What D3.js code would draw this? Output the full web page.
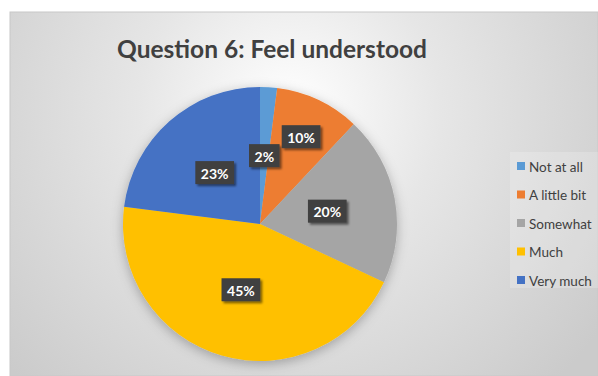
<!DOCTYPE html>
<html>
<head>
<meta charset="utf-8">
<script src="https://cdn.jsdelivr.net/npm/d3@7"></script>
<style>
  html, body { margin: 0; padding: 0; background: #fff; }
  svg { display: block; }
</style>
</head>
<body>
<script>
// Survey responses for question 6
const categories = ["Not at all", "A little bit", "Somewhat", "Much", "Very much"];
const percents = [2, 10, 20, 45, 23];
const sliceColors = ["#5B9BD5", "#ED7D31", "#A5A5A5", "#FFC000", "#4472C4"];
const chartTitle = "Question 6: Feel understood";

const W = 598, H = 376;
const font = "Lato, 'Open Sans', sans-serif";

const svg = d3.select("body").append("svg")
  .attr("width", W).attr("height", H);

const defs = svg.append("defs");

// chart area background: soft radial gradient
const bg = defs.append("radialGradient")
  .attr("id", "bg").attr("gradientUnits", "userSpaceOnUse")
  .attr("cx", 290).attr("cy", 110).attr("r", 380);
bg.append("stop").attr("offset", "0%").attr("stop-color", "#ffffff");
bg.append("stop").attr("offset", "40%").attr("stop-color", "#e6e6e6");
bg.append("stop").attr("offset", "100%").attr("stop-color", "#cbcbcb");

const pieShadow = defs.append("filter").attr("id", "pieShadow")
  .attr("x", "-20%").attr("y", "-20%").attr("width", "140%").attr("height", "140%");
pieShadow.append("feDropShadow").attr("dx", 0).attr("dy", 3)
  .attr("stdDeviation", 6).attr("flood-color", "#000").attr("flood-opacity", 0.28);

const boxShadow = defs.append("filter").attr("id", "boxShadow")
  .attr("x", "-30%").attr("y", "-30%").attr("width", "170%").attr("height", "170%");
boxShadow.append("feDropShadow").attr("dx", 2).attr("dy", 2)
  .attr("stdDeviation", 1.2).attr("flood-color", "#000").attr("flood-opacity", 0.5);

svg.append("rect")
  .attr("x", 10).attr("y", 12).attr("width", W - 10).attr("height", H - 12)
  .attr("fill", "url(#bg)")
  .attr("stroke", "#c8c8c8").attr("stroke-width", 1);

// title
svg.append("text")
  .attr("x", 272).attr("y", 58)
  .attr("text-anchor", "middle")
  .attr("font-family", font).attr("font-weight", "bold")
  .attr("font-size", 24.5).attr("fill", "#404040")
  .text(chartTitle);

// pie
const cx = 260, cy = 224, radius = 137;
const data = categories.map((c, i) => ({ cat: c, value: percents[i], color: sliceColors[i] }));
const pie = d3.pie().sort(null).value(d => d.value);
const arcs = pie(data);
const arc = d3.arc().innerRadius(0).outerRadius(radius);

const g = svg.append("g").attr("transform", `translate(${cx},${cy})`);
g.append("g").attr("filter", "url(#pieShadow)")
  .selectAll("path").data(arcs).join("path")
  .attr("d", arc)
  .attr("fill", d => d.data.color)
  .attr("stroke", "none");

// data labels: dark boxes at mid-radius, pushed outward if they collide
const labelG = g.append("g");
const placed = [];
arcs.forEach(a => {
  const txt = a.data.value + "%";
  const t = labelG.append("text")
    .attr("font-family", font).attr("font-weight", "bold")
    .attr("font-size", 14).attr("fill", "#ffffff")
    .attr("text-anchor", "middle").attr("dominant-baseline", "central")
    .text(txt);
  const tw = t.node().getComputedTextLength();
  const bw = tw + 11, bh = 23;
  const mid = (a.startAngle + a.endAngle) / 2;
  let rr = radius * 0.5;
  let x, y;
  const overlaps = (x, y) => placed.some(p =>
    Math.abs(p.x - x) < (p.w + bw) / 2 + 2 && Math.abs(p.y - y) < (p.h + bh) / 2);
  for (;;) {
    x = Math.sin(mid) * rr; y = -Math.cos(mid) * rr;
    if (!overlaps(x, y) || rr > radius) break;
    rr += 1;
  }
  placed.push({ x, y, w: bw, h: bh });
  labelG.insert("rect", "text")
    .attr("x", x - bw / 2).attr("y", y - bh / 2)
    .attr("width", bw).attr("height", bh)
    .attr("fill", "#404040")
    .attr("filter", "url(#boxShadow)");
  t.attr("x", x).attr("y", y + 0.5).raise();
});

// legend
const lg = svg.append("g");
lg.append("rect")
  .attr("x", 510).attr("y", 152).attr("width", 88).attr("height", 136)
  .attr("fill", "#ffffff").attr("fill-opacity", 0.2);
const ly = d3.scalePoint().domain(categories).range([166, 280]);
const items = lg.selectAll("g.item").data(data).join("g")
  .attr("transform", d => `translate(517,${ly(d.cat)})`);
items.append("rect")
  .attr("x", 0).attr("y", -4).attr("width", 8).attr("height", 8)
  .attr("fill", d => d.color);
items.append("text")
  .attr("x", 12).attr("y", 0.5)
  .attr("dominant-baseline", "central")
  .attr("font-family", font).attr("font-size", 13.5)
  .attr("fill", "#404040")
  .text(d => d.cat);
</script>
</body>
</html>
